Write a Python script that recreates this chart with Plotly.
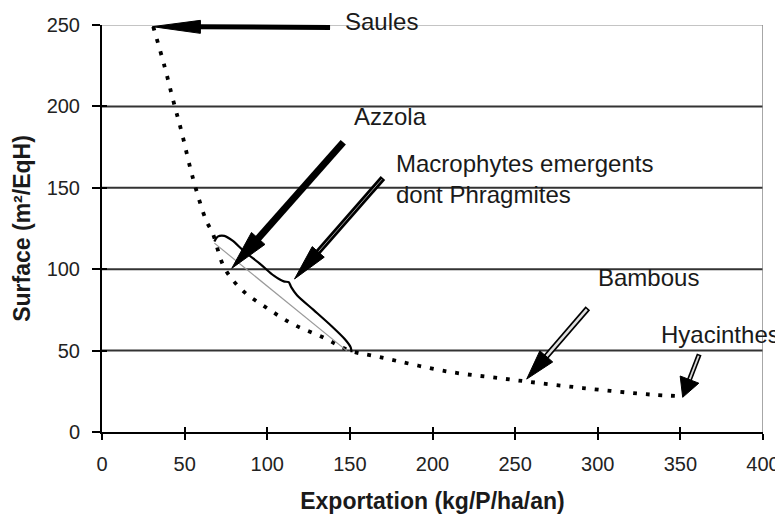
import math
import plotly.graph_objects as go

# ---------------- data ----------------
curve_x = [31, 38, 43, 48, 55, 63, 67, 74, 85, 100, 116, 134, 150, 168, 210, 241, 257, 291, 332, 350]
curve_y = [249, 224, 204, 185, 156, 130, 122, 101, 87, 76, 66, 58, 50, 46, 37, 33, 31, 27, 23, 22]

lens_upper_x = [68, 70, 74, 79, 86, 96, 104, 110, 113, 114.5, 118, 128, 139, 147, 150.5, 151]
lens_upper_y = [117, 120, 120.5, 117.5, 111, 103, 96, 92.5, 92, 89, 84, 75, 65, 57, 52, 49]
lens_lower_x = [68, 148]
lens_lower_y = [116, 50]

labels = ["Saules", "Azzola", "Macrophytes emergents<br>dont Phragmites", "Bambous", "Hyacinthes"]
label_x = [146, 151, 177, 299, 337]
label_y = [252, 193.5, 155.4, 95.2, 59.6]
# arrows: tail (x0,y0) -> tip (x1,y1)
arrow_x0 = [138, 146, 170, 294, 361.4]
arrow_y0 = [248.5, 178, 156, 76, 47.7]
arrow_x1 = [30.5, 78.5, 116.5, 257, 351.4]
arrow_y1 = [249, 100.5, 94, 32.5, 21.3]
arrow_shaft = [5, 7, 6, 6, 5]
arrow_head_len = [48, 40, 36, 30, 19]
arrow_head_w = [13, 18, 16, 17, 20]
arrow_inner = [0, 0, 1.0, 2.5, 1.8]
arrow_inner_color = ["#ffffff", "#ffffff", "#9a9a9a", "#e0e0e0", "#d8d8d8"]

x_ticks = [0, 50, 100, 150, 200, 250, 300, 350, 400]
y_ticks = [0, 50, 100, 150, 200, 250]

# ---------------- layout geometry ----------------
# the page body has an 8px margin, so the figure is 8px smaller than the window
W, H = 775, 508
ML, MR, MT, MB = 94, 20, 17, 84
XR = [0, 400]
YR = [0, 250]
SX = (W - ML - MR) / (XR[1] - XR[0])
SY = (H - MT - MB) / (YR[1] - YR[0])

FONT = "Liberation Sans, Arial, sans-serif"


def py(v):
    """data y -> paper fraction (y domain is [0, 1])"""
    return (v - YR[0]) / (YR[1] - YR[0])


fig = go.Figure()

fig.add_trace(go.Scatter(
    x=curve_x, y=curve_y, mode="lines", line_shape="spline",
    line=dict(color="black", width=3.8, dash="3.8px,9px"),
    hoverinfo="skip", showlegend=False, cliponaxis=False))

fig.add_trace(go.Scatter(
    x=lens_lower_x, y=lens_lower_y, mode="lines",
    line=dict(color="#9a9a9a", width=1.2), hoverinfo="skip", showlegend=False))

fig.add_trace(go.Scatter(
    x=lens_upper_x, y=lens_upper_y, mode="lines", line_shape="spline",
    line=dict(color="black", width=2.2, smoothing=0.8), hoverinfo="skip", showlegend=False))

# invisible trace for the overlay axes (inner tick halves)
fig.add_trace(go.Scatter(x=[None], y=[None], xaxis="x2", yaxis="y2",
                         mode="lines", showlegend=False, hoverinfo="skip"))

shapes = []
# horizontal grid lines
for v in y_ticks:
    if v == 0:
        continue
    if v == 250:
        shapes.append(dict(type="line", xref="x", yref="y", x0=0, x1=400, y0=v, y1=v,
                           line=dict(color="#8a8a8a", width=1.2), layer="below"))
    else:
        shapes.append(dict(type="line", xref="x", yref="y", x0=0, x1=400, y0=v, y1=v,
                           line=dict(color="#333333", width=2), layer="below"))
# right border
shapes.append(dict(type="line", xref="x", yref="y", x0=400, x1=400, y0=0, y1=250,
                   line=dict(color="#8a8a8a", width=1.5), layer="below"))


def arrow(x0, y0, x1, y1, shaft, hl, hw, inner, inner_color):
    X0, Y0, X1, Y1 = x0 * SX, y0 * SY, x1 * SX, y1 * SY
    L = math.hypot(X1 - X0, Y1 - Y0)
    dx, dy = (X1 - X0) / L, (Y1 - Y0) / L
    nx, ny = -dy, dx
    bx, by = X1 - dx * hl, Y1 - dy * hl
    out = []
    sbx, sby = bx + dx * 2, by + dy * 2
    out.append(dict(type="line", xref="x", yref="paper", x0=x0, y0=py(y0),
                    x1=sbx / SX, y1=py(sby / SY),
                    line=dict(color="black", width=shaft)))
    if inner > 0:
        out.append(dict(type="line", xref="x", yref="paper",
                        x0=(X0 + dx * 1.5) / SX, y0=py((Y0 + dy * 1.5) / SY),
                        x1=bx / SX, y1=py(by / SY),
                        line=dict(color=inner_color, width=inner)))
    pts = [(X1, Y1), (bx + nx * hw / 2, by + ny * hw / 2), (bx - nx * hw / 2, by - ny * hw / 2)]
    path = "M {:.3f},{:.5f} L {:.3f},{:.5f} L {:.3f},{:.5f} Z".format(
        pts[0][0] / SX, py(pts[0][1] / SY), pts[1][0] / SX, py(pts[1][1] / SY),
        pts[2][0] / SX, py(pts[2][1] / SY))
    out.append(dict(type="path", xref="x", yref="paper", path=path,
                    fillcolor="black", line=dict(color="black", width=1)))
    return out


for i in range(len(labels)):
    shapes += arrow(arrow_x0[i], arrow_y0[i], arrow_x1[i], arrow_y1[i],
                    arrow_shaft[i], arrow_head_len[i], arrow_head_w[i],
                    arrow_inner[i], arrow_inner_color[i])

annotations = []
for t, lx, ly in zip(labels, label_x, label_y):
    annotations.append(dict(text=t, x=lx, y=py(ly), xref="x", yref="paper", showarrow=False,
                            xanchor="left", yanchor="middle", align="left",
                            font=dict(family=FONT, size=24, color="#1a1a1a")))

fig.update_layout(
    width=W, height=H,
    margin=dict(l=ML, r=MR, t=MT, b=MB, pad=0, autoexpand=False),
    paper_bgcolor="white", plot_bgcolor="white",
    shapes=shapes, annotations=annotations,
    showlegend=False,
    xaxis=dict(range=XR, tickvals=x_ticks, ticks="outside", ticklen=6, tickwidth=2,
               tickcolor="black", showgrid=False, zeroline=False, automargin=False,
               showline=True, linecolor="black", linewidth=2,
               ticklabelstandoff=7,
               tickfont=dict(family=FONT, size=20, color="#222222"),
               title=dict(text="<b>Exportation (kg/P/ha/an)</b>", standoff=19,
                          font=dict(family=FONT, size=23, color="#1a1a1a"))),
    yaxis=dict(range=YR, tickvals=y_ticks, ticks="outside", ticklen=8, tickwidth=2,
               tickcolor="black", showgrid=False, zeroline=False, automargin=False,
               showline=True, linecolor="black", linewidth=2,
               ticklabelstandoff=8,
               tickfont=dict(family=FONT, size=20, color="#222222"),
               title=dict(text="<b>Surface (m²/EqH)</b>", standoff=10,
                          font=dict(family=FONT, size=23, color="#1a1a1a"))),
    xaxis2=dict(range=XR, tickvals=x_ticks, ticks="inside", ticklen=5, tickwidth=2,
                tickcolor="black", overlaying="x", anchor="y2", side="bottom",
                showticklabels=False, showgrid=False, zeroline=False, showline=False,
                automargin=False),
    yaxis2=dict(range=YR, tickvals=y_ticks, ticks="inside", ticklen=5, tickwidth=2,
                tickcolor="black", overlaying="y", anchor="x2", side="left",
                showticklabels=False, showgrid=False, zeroline=False, showline=False,
                automargin=False),
)

fig.write_html("out.html")
